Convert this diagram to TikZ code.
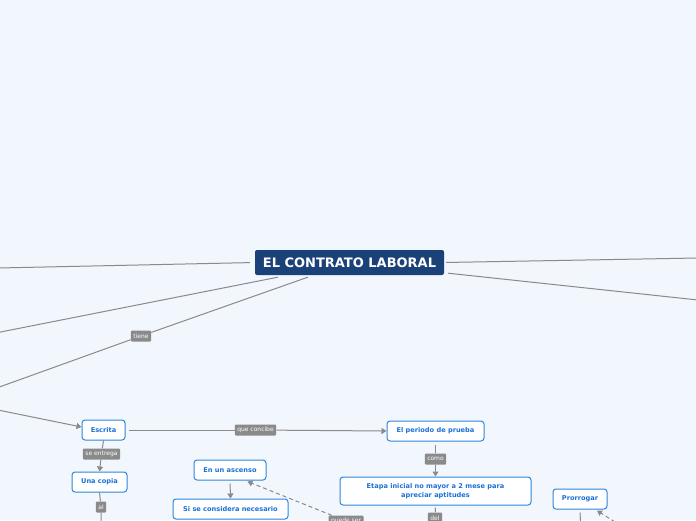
\documentclass[tikz,border=0pt]{standalone}
\usepackage{fontspec}
\setmainfont{DejaVu Sans}
\usetikzlibrary{arrows.meta}
\definecolor{bg}{HTML}{F2F6FD}
\definecolor{mainblue}{HTML}{1B4278}
\definecolor{cblue}{HTML}{2E86DE}
\definecolor{ctext}{HTML}{1A70D8}
\definecolor{lgray}{HTML}{8A8A8A}
\begin{document}
\begin{tikzpicture}[x=1pt,y=-1pt,
 concept/.style={draw=cblue,line width=1pt,fill=white,rounded corners=3pt,text=ctext,font=\bfseries\fontsize{6.6}{8.6}\selectfont,inner sep=0pt,minimum height=20pt,align=center},
 lbl/.style={fill=lgray,text=white,font=\fontsize{6}{7}\selectfont,rounded corners=1pt,inner xsep=2.5pt,inner ysep=0pt,minimum height=11pt},
 conn/.style={draw=lgray,line width=1pt},
 arr/.style={conn,-{Triangle[width=6pt,length=5pt]}},
 dconn/.style={conn,dash pattern=on 4pt off 3pt}]
\useasboundingbox (0,0) rectangle (696,520);
\clip (0,0) rectangle (696,520);
\fill[bg] (0,0) rectangle (696,520);

% free ends
\coordinate (L1) at (-2,268);
\coordinate (L2) at (-2,332.5);
\coordinate (L3) at (-2,387.5);
\coordinate (L4) at (-2,410);
\coordinate (R1) at (698,258);
\coordinate (R2) at (698,300);
\coordinate (B1) at (101,524);
\coordinate (B3) at (580.5,524);
\coordinate (D1) at (615,522);

% nodes
\node[fill=mainblue,text=white,font=\bfseries\fontsize{13}{15}\selectfont,rounded corners=2pt,minimum width=189pt,minimum height=25pt,inner sep=0pt] (main) at (349.5,262.5) {EL CONTRATO LABORAL};
\node[concept,minimum width=43pt] (escrita) at (103.5,430) {Escrita};
\node[concept,minimum width=55pt] (copia) at (99.5,482) {Una copia};
\node[concept,minimum width=97pt] (periodo) at (435.5,431) {El periodo de prueba};
\node[concept,minimum width=191pt,minimum height=28pt] (etapa) at (435.5,491) {Etapa inicial no mayor a 2 mese para\\apreciar aptitudes};
\node[concept,minimum width=72pt] (ascenso) at (230,470) {En un ascenso};
\node[concept,minimum width=115pt] (necesario) at (230.5,509) {Si se considera necesario};
\node[concept,minimum width=54pt] (prorrogar) at (580,499) {Prorrogar};

% labels
\node[lbl] (tiene) at (141,336) {tiene};
\node[lbl] (concibe) at (255.5,430) {que concibe};
\node[lbl] (entrega) at (101.5,454) {se entrega};
\node[lbl] (como) at (435.5,459) {como};
\node[lbl] (al) at (101,507) {al};
\node[lbl] (del) at (435,518) {del};
\node[lbl] (puede) at (346,521) {puede ser};

% connectors
\draw[conn,shorten <=5pt] (main.west) -- (L1);
\draw[conn] ([xshift=23pt,yshift=-2pt]main.south west) -- (L2);
\draw[conn] ([xshift=53pt,yshift=-2pt]main.south west) -- (tiene) -- (L3);
\draw[arr] (L4) -- ([yshift=3pt]escrita.west);
\draw[conn,shorten <=2pt] (main.east) -- (R1);
\draw[conn] ([xshift=4pt,yshift=2pt]main.south east) -- (R2);
\draw[conn,shorten <=3pt] (escrita.east) -- (concibe);
\draw[arr] (concibe) -- (periodo.west);
\draw[conn] (escrita.south) -- (entrega);
\draw[arr] (entrega) -- (copia.north);
\draw[conn] (copia.south) -- (al) -- (B1);
\draw[conn,shorten <=3pt] (periodo.south) -- (como);
\draw[arr] (como) -- (etapa.north);
\draw[conn,shorten <=2pt] (etapa.south) -- (del);
\draw[arr,shorten <=3pt] (ascenso.south) -- (necesario.north);
\draw[dconn,-{Triangle[width=6pt,length=5pt]}] (puede) -- ([xshift=-19pt,yshift=-1pt]ascenso.south east);
\draw[conn,shorten <=3pt] (prorrogar.south) -- (B3);
\draw[dconn,-{Triangle[width=6pt,length=5pt]}] (D1) -- ([xshift=17pt,yshift=-1pt]prorrogar.south);
\end{tikzpicture}
\end{document}
